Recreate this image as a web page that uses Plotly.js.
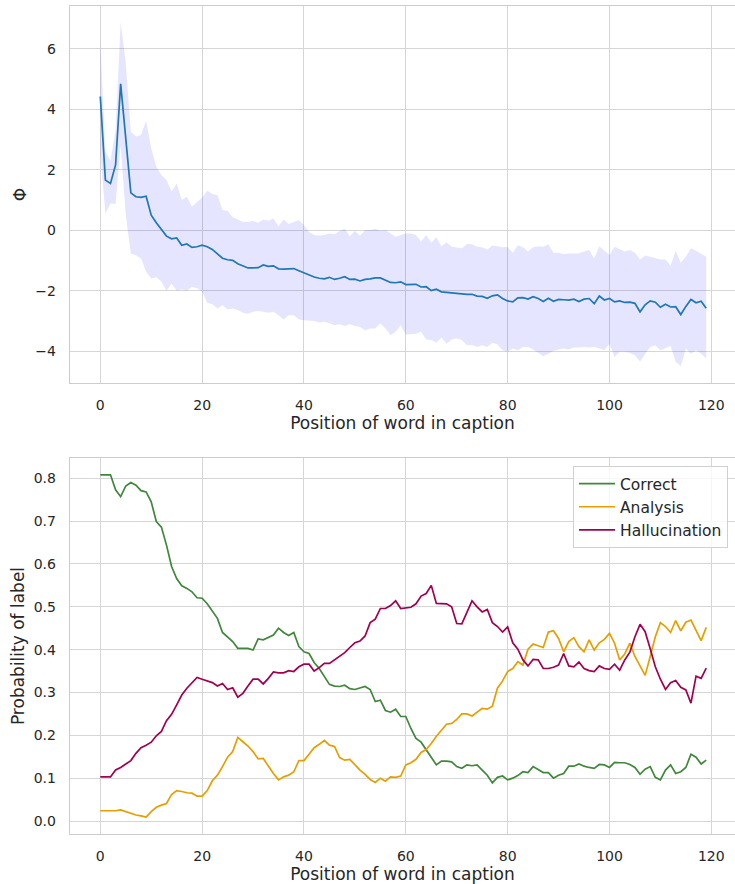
<!DOCTYPE html>
<html>
<head>
<meta charset="utf-8">
<script src="https://cdn.plot.ly/plotly-3.0.1.min.js"></script>
<style>
  html, body { margin: 0; padding: 0; background: #ffffff; }
  #chart { width: 735px; height: 884px; }
</style>
</head>
<body>
<div id="chart"></div>
<script>
// Word positions within a caption (0 .. 119)
const positions = Array.from({length: 120}, (_, i) => i);

// Mean Φ per word position, with the upper / lower edge of the spread band
const phiMean = [
  4.42, 1.66, 1.55, 2.16, 4.84, 2.95, 1.24, 1.11, 1.09, 1.13,
  0.50, 0.25, 0.01, -0.19, -0.28, -0.25, -0.49, -0.45, -0.56, -0.54,
  -0.49, -0.54, -0.63, -0.76, -0.92, -0.97, -0.99, -1.10, -1.17, -1.24,
  -1.24, -1.23, -1.14, -1.19, -1.17, -1.27, -1.28, -1.28, -1.26, -1.33,
  -1.40, -1.49, -1.54, -1.58, -1.60, -1.55, -1.62, -1.58, -1.53, -1.62,
  -1.61, -1.67, -1.62, -1.60, -1.57, -1.57, -1.64, -1.72, -1.73, -1.70,
  -1.79, -1.78, -1.78, -1.87, -1.86, -1.99, -1.94, -2.03, -2.05, -2.05,
  -2.08, -2.11, -2.11, -2.11, -2.17, -2.18, -2.24, -2.16, -2.13, -2.25,
  -2.33, -2.36, -2.23, -2.22, -2.27, -2.19, -2.25, -2.35, -2.24, -2.34,
  -2.28, -2.29, -2.30, -2.27, -2.35, -2.27, -2.25, -2.42, -2.17, -2.30,
  -2.25, -2.36, -2.33, -2.38, -2.37, -2.41, -2.69, -2.46, -2.33, -2.37,
  -2.54, -2.44, -2.53, -2.52, -2.78, -2.51, -2.28, -2.39, -2.34, -2.57
];
const phiUpper = [
  6.29, 2.60, 2.30, 3.30, 6.88, 5.52, 3.26, 3.10, 3.15, 3.62,
  2.71, 2.10, 1.83, 1.66, 1.28, 1.55, 1.00, 1.11, 0.78, 0.94,
  1.09, 1.31, 1.20, 1.17, 0.67, 0.65, 0.43, 0.36, 0.28, 0.28,
  0.31, 0.25, 0.36, 0.32, 0.39, 0.14, 0.36, 0.21, 0.28, 0.34,
  0.17, -0.05, -0.15, -0.17, -0.15, -0.10, -0.13, -0.02, 0.05, -0.19,
  -0.01, -0.18, 0.01, 0.01, 0.05, -0.01, 0.01, -0.10, -0.21, -0.15,
  -0.10, -0.10, -0.15, -0.37, -0.15, -0.41, -0.23, -0.52, -0.39, -0.54,
  -0.57, -0.59, -0.45, -0.46, -0.54, -0.56, -0.63, -0.50, -0.52, -0.56,
  -0.55, -0.74, -0.49, -0.56, -0.70, -0.56, -0.52, -0.54, -0.46, -0.74,
  -0.74, -0.78, -0.76, -0.76, -0.76, -0.70, -0.65, -0.93, -0.52, -0.67,
  -0.81, -0.54, -0.61, -0.70, -0.65, -0.74, -0.96, -0.83, -0.87, -0.92,
  -0.96, -0.96, -1.16, -0.67, -1.07, -0.87, -0.59, -0.67, -0.78, -0.87
];
const phiLower = [
  2.55, 0.56, 0.89, 0.87, 2.80, 0.50, -0.77, -0.82, -0.93, -1.37,
  -1.59, -1.55, -1.70, -1.99, -1.75, -1.99, -1.95, -1.99, -1.86, -1.91,
  -2.03, -2.39, -2.44, -2.58, -2.47, -2.61, -2.58, -2.63, -2.72, -2.75,
  -2.69, -2.66, -2.69, -2.72, -2.69, -2.80, -2.94, -2.80, -2.80, -2.94,
  -2.97, -2.99, -2.99, -3.04, -3.02, -3.07, -3.13, -3.10, -3.16, -3.10,
  -3.16, -3.19, -3.30, -3.24, -3.24, -3.07, -3.24, -3.46, -3.35, -3.13,
  -3.44, -3.43, -3.41, -3.35, -3.60, -3.62, -3.71, -3.54, -3.74, -3.60,
  -3.57, -3.62, -3.79, -3.79, -3.85, -3.79, -3.85, -3.71, -3.77, -3.96,
  -4.01, -3.90, -3.96, -3.85, -3.85, -3.93, -4.05, -4.16, -4.07, -3.98,
  -3.93, -3.90, -3.93, -3.87, -3.87, -3.85, -3.87, -3.85, -3.90, -3.96,
  -3.74, -4.18, -4.01, -4.01, -4.05, -4.12, -4.34, -4.07, -3.85, -3.79,
  -3.96, -3.90, -3.82, -4.34, -4.48, -3.90, -4.07, -3.96, -4.07, -4.23
];

// Probability of each label per word position
const labelNames = ["Correct", "Analysis", "Hallucination"];
const pCorrect = [
  0.808, 0.808, 0.808, 0.773, 0.757, 0.782, 0.790, 0.784, 0.771, 0.768,
  0.745, 0.699, 0.686, 0.644, 0.594, 0.566, 0.549, 0.543, 0.535, 0.521,
  0.520, 0.507, 0.489, 0.473, 0.440, 0.430, 0.419, 0.403, 0.403, 0.403,
  0.399, 0.425, 0.423, 0.429, 0.434, 0.450, 0.440, 0.433, 0.440, 0.407,
  0.395, 0.391, 0.370, 0.356, 0.337, 0.319, 0.315, 0.314, 0.317, 0.309,
  0.307, 0.310, 0.314, 0.307, 0.279, 0.282, 0.258, 0.254, 0.261, 0.244,
  0.244, 0.216, 0.193, 0.184, 0.166, 0.150, 0.131, 0.140, 0.140, 0.138,
  0.127, 0.123, 0.131, 0.129, 0.131, 0.119, 0.107, 0.089, 0.102, 0.105,
  0.096, 0.100, 0.106, 0.115, 0.113, 0.127, 0.119, 0.113, 0.113, 0.100,
  0.107, 0.111, 0.128, 0.128, 0.133, 0.128, 0.125, 0.123, 0.132, 0.131,
  0.125, 0.137, 0.136, 0.136, 0.132, 0.125, 0.109, 0.121, 0.127, 0.102,
  0.096, 0.119, 0.131, 0.111, 0.115, 0.125, 0.156, 0.149, 0.133, 0.142
];
const pAnalysis = [
  0.024, 0.024, 0.024, 0.024, 0.026, 0.022, 0.018, 0.014, 0.012, 0.009,
  0.022, 0.032, 0.037, 0.041, 0.062, 0.071, 0.069, 0.066, 0.065, 0.058,
  0.058, 0.071, 0.094, 0.107, 0.127, 0.149, 0.162, 0.195, 0.185, 0.175,
  0.162, 0.145, 0.146, 0.127, 0.111, 0.096, 0.103, 0.107, 0.115, 0.141,
  0.141, 0.156, 0.171, 0.179, 0.188, 0.177, 0.174, 0.148, 0.142, 0.144,
  0.131, 0.119, 0.109, 0.097, 0.090, 0.100, 0.093, 0.103, 0.102, 0.105,
  0.131, 0.136, 0.144, 0.160, 0.167, 0.181, 0.198, 0.211, 0.226, 0.228,
  0.237, 0.250, 0.250, 0.245, 0.254, 0.263, 0.261, 0.268, 0.310, 0.327,
  0.349, 0.356, 0.372, 0.364, 0.401, 0.413, 0.409, 0.405, 0.441, 0.444,
  0.426, 0.395, 0.419, 0.428, 0.407, 0.395, 0.423, 0.399, 0.416, 0.424,
  0.438, 0.415, 0.376, 0.390, 0.415, 0.384, 0.362, 0.340, 0.384, 0.430,
  0.463, 0.454, 0.440, 0.468, 0.444, 0.464, 0.469, 0.446, 0.421, 0.452
];
const pHallucination = [
  0.103, 0.103, 0.103, 0.119, 0.125, 0.133, 0.141, 0.158, 0.171, 0.177,
  0.184, 0.199, 0.209, 0.234, 0.249, 0.271, 0.294, 0.310, 0.323, 0.335,
  0.331, 0.327, 0.323, 0.315, 0.321, 0.307, 0.311, 0.289, 0.298, 0.315,
  0.331, 0.331, 0.320, 0.333, 0.348, 0.346, 0.346, 0.351, 0.349, 0.360,
  0.366, 0.366, 0.350, 0.358, 0.368, 0.368, 0.376, 0.385, 0.393, 0.405,
  0.416, 0.420, 0.432, 0.463, 0.471, 0.496, 0.496, 0.503, 0.514, 0.496,
  0.497, 0.499, 0.507, 0.525, 0.531, 0.550, 0.508, 0.507, 0.507, 0.500,
  0.461, 0.460, 0.485, 0.514, 0.500, 0.488, 0.494, 0.463, 0.454, 0.441,
  0.453, 0.416, 0.401, 0.376, 0.362, 0.377, 0.376, 0.356, 0.356, 0.359,
  0.364, 0.391, 0.362, 0.360, 0.371, 0.356, 0.351, 0.349, 0.362, 0.356,
  0.354, 0.366, 0.352, 0.376, 0.394, 0.430, 0.459, 0.442, 0.402, 0.360,
  0.331, 0.307, 0.323, 0.328, 0.312, 0.306, 0.275, 0.338, 0.333, 0.357
];

const labelColors = ["#3f873a", "#e69f00", "#a0004f"];
const FONT = "DejaVu Sans, Liberation Sans, sans-serif";
const INK = "#262626";
const GRID = "#d6d6d6";
const SPINE = "#cccccc";

const traces = [
  // spread band: upper edge, then lower edge filled back to it
  { x: positions, y: phiUpper, xaxis: "x", yaxis: "y", mode: "lines",
    line: { width: 0, color: "rgba(0,0,255,0)" }, showlegend: false, hoverinfo: "skip" },
  { x: positions, y: phiLower, xaxis: "x", yaxis: "y", mode: "lines",
    line: { width: 0, color: "rgba(0,0,255,0)" }, fill: "tonexty",
    fillcolor: "rgba(0,0,255,0.1)", showlegend: false, hoverinfo: "skip" },
  { x: positions, y: phiMean, xaxis: "x", yaxis: "y", mode: "lines",
    line: { width: 1.7, color: "#1f77b4" }, showlegend: false, name: "Φ" }
];

[pCorrect, pAnalysis, pHallucination].forEach((vals, k) => {
  traces.push({
    x: positions, y: vals, xaxis: "x2", yaxis: "y2", mode: "lines",
    name: labelNames[k], line: { width: 1.7, color: labelColors[k] }
  });
});

const W = 735, H = 884;
const xDomain = [70 / W, 1];
const xRange = [-5.95, 124.65];

function xAxis(anchor) {
  return {
    domain: xDomain, anchor: anchor, range: xRange,
    tickvals: [0, 20, 40, 60, 80, 100, 120],
    showgrid: true, gridcolor: GRID, gridwidth: 1,
    zeroline: false, showline: true, mirror: true, linecolor: SPINE, linewidth: 1.3,
    ticks: "", ticklabelstandoff: 9,
    tickfont: { family: FONT, size: 14, color: INK },
    automargin: true,
    title: { text: "Position of word in caption", font: { family: FONT, size: 17, color: INK }, standoff: 4 }
  };
}

const layout = {
  width: W, height: H,
  margin: { l: 0, r: 0, t: 0, b: 0 },
  paper_bgcolor: "#ffffff", plot_bgcolor: "#ffffff",
  font: { family: FONT, color: INK },
  xaxis: xAxis("y"),
  xaxis2: xAxis("y2"),
  yaxis: {
    domain: [(H - 383) / H, (H - 6) / H], anchor: "x",
    range: [-5.04, 7.41], tickvals: [-4, -2, 0, 2, 4, 6],
    showgrid: true, gridcolor: GRID, gridwidth: 1,
    zeroline: false, showline: true, mirror: false, linecolor: SPINE, linewidth: 1.3,
    ticks: "", ticklabelstandoff: 10,
    tickfont: { family: FONT, size: 14, color: INK },
    automargin: true,
    title: { text: "Φ", font: { family: FONT, size: 17, color: INK }, standoff: 4 }
  },
  yaxis2: {
    domain: [(H - 834) / H, (H - 458) / H], anchor: "x2",
    range: [-0.0303, 0.8473], dtick: 0.1, tick0: 0, tickformat: ".1f",
    showgrid: true, gridcolor: GRID, gridwidth: 1,
    zeroline: false, showline: true, mirror: false, linecolor: SPINE, linewidth: 1.3,
    ticks: "", ticklabelstandoff: 10,
    tickfont: { family: FONT, size: 14, color: INK },
    automargin: true,
    title: { text: "Probability of label", font: { family: FONT, size: 17, color: INK }, standoff: 4 }
  },
  showlegend: true,
  legend: {
    x: 728 / W, xanchor: "right", y: (H - 466) / H, yanchor: "top",
    traceorder: "normal",
    bgcolor: "rgba(255,255,255,0.8)", bordercolor: "#d0d0d0", borderwidth: 1,
    font: { family: FONT, size: 15.5, color: INK },
    itemwidth: 36
  }
};

Plotly.newPlot("chart", traces, layout, { staticPlot: true, displayModeBar: false });
</script>
</body>
</html>
